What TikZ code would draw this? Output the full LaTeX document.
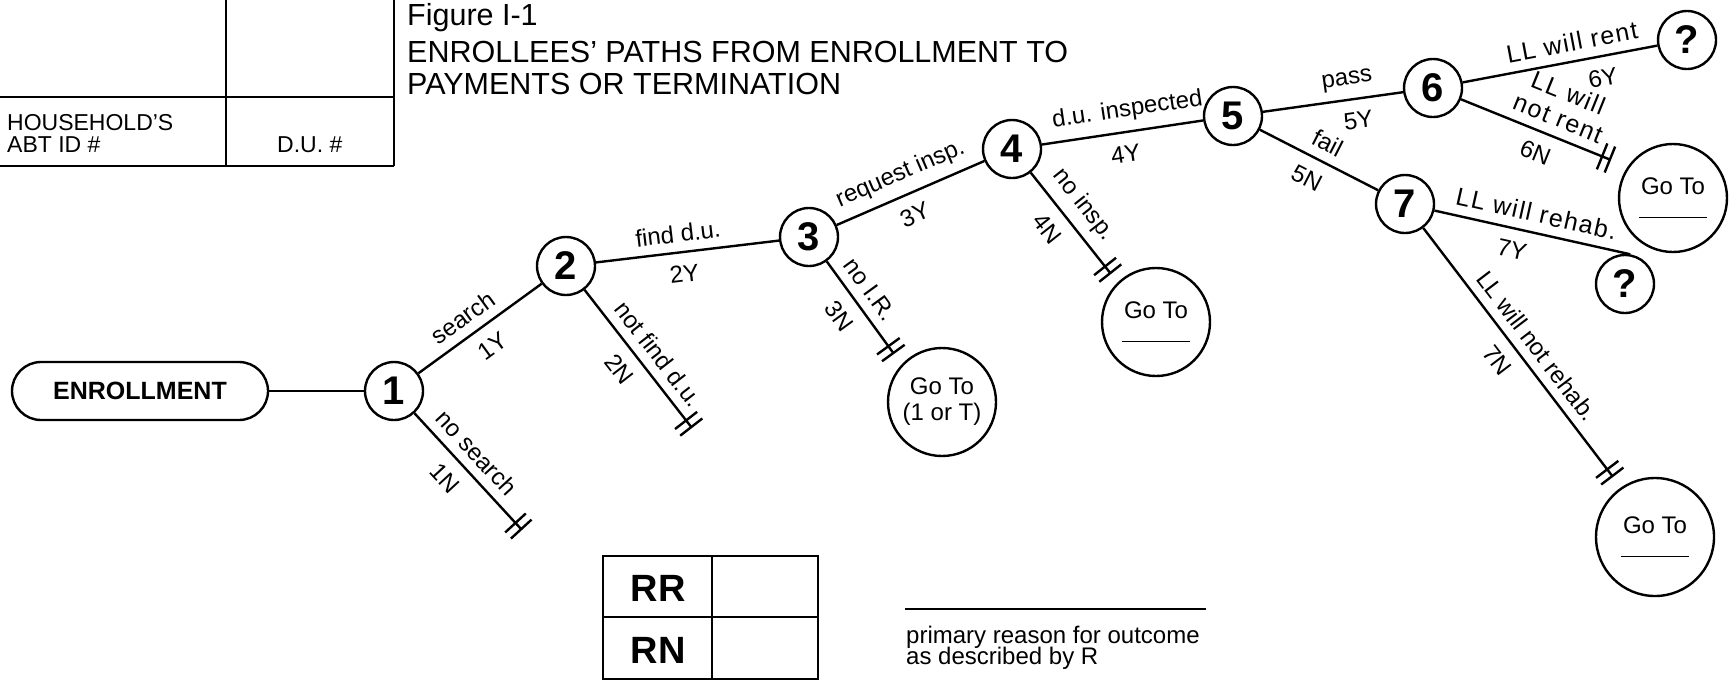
\documentclass[tikz,border=0pt]{standalone}
\usepackage{fontspec}
\setmainfont{Liberation Sans}
\usetikzlibrary{arrows.meta}

\begin{document}
\begin{tikzpicture}[x=1pt,y=-1pt,-,line width=2.4pt,
    main node/.style={circle,draw,minimum size=58pt,inner sep=0pt,font=\fontsize{40}{40}\selectfont\bfseries},
    goto node/.style={circle,draw,minimum size=108pt,inner sep=0pt,align=center,font=\fontsize{24}{26}\selectfont},
    dead end/.style={-{Bar[width=28pt,sep=6pt]Bar[width=28pt]}},
    lbl/.style={sloped,inner sep=9pt,font=\fontsize{24}{26}\selectfont},
    code/.style={below,inner sep=12pt},
    wide/.style={font=\fontsize{25}{27}\selectfont\addfontfeature{LetterSpace=6}},
    form text/.style={inner sep=0pt,font=\fontsize{23}{23}\selectfont}]
    \useasboundingbox (0,0) rectangle (1731,681);

    % form boxes
    \draw (226,0) -- (226,166) (394,0) -- (394,166) (0,97) -- (394,97) (0,166) -- (394,166);
    \node[form text,anchor=base west] (hh) at (6,130) {HOUSEHOLD'S};
    \node[form text,anchor=base west] (abt) at (6,152) {ABT ID \#};
    \node[form text,anchor=base west] (du) at (276,152) {D.U. \#};

    \node[form text,anchor=base west,font=\fontsize{30.5}{31}\selectfont] (fig) at (406,25) {Figure I-1};
    \node[form text,anchor=base west,font=\fontsize{30.5}{31}\selectfont] (title1) at (406,62) {ENROLLEES' PATHS FROM ENROLLMENT TO};
    \node[form text,anchor=base west,font=\fontsize{30.5}{31}\selectfont] (title2) at (406,94) {PAYMENTS OR TERMINATION};

    % decision tree
    \node[draw,rounded corners=29pt,minimum width=256pt,minimum height=58pt,font=\fontsize{25}{25}\selectfont\bfseries] (enroll) at (140,391) {ENROLLMENT};
    \node[main node] (1) at (394,391) {1};
    \node[main node] (2) at (566,266) {2};
    \node[main node] (3) at (809,237) {3};
    \node[main node] (4) at (1012,149) {4};
    \node[main node] (5) at (1233,116) {5};
    \node[main node] (6) at (1433,88) {6};
    \node[main node] (7) at (1405,204) {7};
    \node[main node] (q6) at (1687,40) {?};
    \node[main node] (q7) at (1625,284) {?};

    \node[goto node] (g3) at (942,402) {Go To\\(1 or T)};
    \node[goto node] (g4) at (1156,322) {Go To\\[-2pt]\rule{68pt}{1.6pt}};
    \node[goto node] (g6) at (1673,198) {Go To\\[-2pt]\rule{68pt}{1.6pt}};
    \node[goto node,minimum size=118pt] (g7) at (1655,537) {Go To\\[-2pt]\rule{68pt}{1.6pt}};

    \coordinate (t1) at (522,530);
    \coordinate (t2) at (692,428);
    \coordinate (t3) at (894,354);
    \coordinate (t4) at (1111,274);
    \coordinate (t6) at (1611,160);
    \coordinate (t7) at (1613,477);

    \path[every node/.style={lbl}]
        (enroll) edge (1)
        (1) edge node[above,pos=.45]{search} node[code,pos=.5]{1Y} (2)
        (1) edge[dead end] node[above,pos=.45]{no search} node[code,pos=.43]{1N} (t1)
        (2) edge node[above,pos=.46]{find d.u.} node[code,pos=.47]{2Y} (3)
        (2) edge[dead end] node[above,pos=.55]{not find d.u.} node[code,pos=.48]{2N} (t2)
        (3) edge node[above,pos=.49]{request insp.} node[code,pos=.47]{3Y} (4)
        (3) edge[dead end] node[above,pos=.42]{no I.R.} node[code,pos=.45]{3N} (t3)
        (4) edge node[above,pos=.55]{d.u. inspected} node[code,pos=.5]{4Y} (5)
        (4) edge[dead end] node[above,pos=.45]{no insp.} node[code,pos=.42]{4N} (t4)
        (5) edge node[above,pos=.62]{pass} node[code,pos=.66]{5Y} (6)
        (5) edge node[above,pos=.5]{fail} node[code,pos=.48]{5N} (7)
        (6) edge node[above,pos=.58,wide]{LL will rent} node[code,pos=.7]{6Y} (q6)
        (6) edge[dead end] node[above,pos=.6,align=center,wide]{LL will\\not rent} node[code,pos=.55]{6N} (t6)
        (7) edge node[above,pos=.5,wide]{LL will rehab.} node[code,pos=.42]{7Y} (q7.80)
        (7) edge[dead end] node[above,pos=.52]{LL will not rehab.} node[code,pos=.48]{7N} (t7)
        ;

    % reason box
    \draw (603,556) rectangle (818,679) (712,556) -- (712,679) (603,617) -- (818,617);
    \node[form text,font=\fontsize{38}{38}\selectfont\bfseries] (rr) at (658,588) {RR};
    \node[form text,font=\fontsize{38}{38}\selectfont\bfseries] (rn) at (658,650) {RN};
    \draw (905,609) -- (1206,609);
    \node[form text,anchor=base west,font=\fontsize{24}{24}\selectfont] (why1) at (905,643) {primary reason for outcome};
    \node[form text,anchor=base west,font=\fontsize{24}{24}\selectfont] (why2) at (905,664) {as described by R};
\end{tikzpicture}
\end{document}
